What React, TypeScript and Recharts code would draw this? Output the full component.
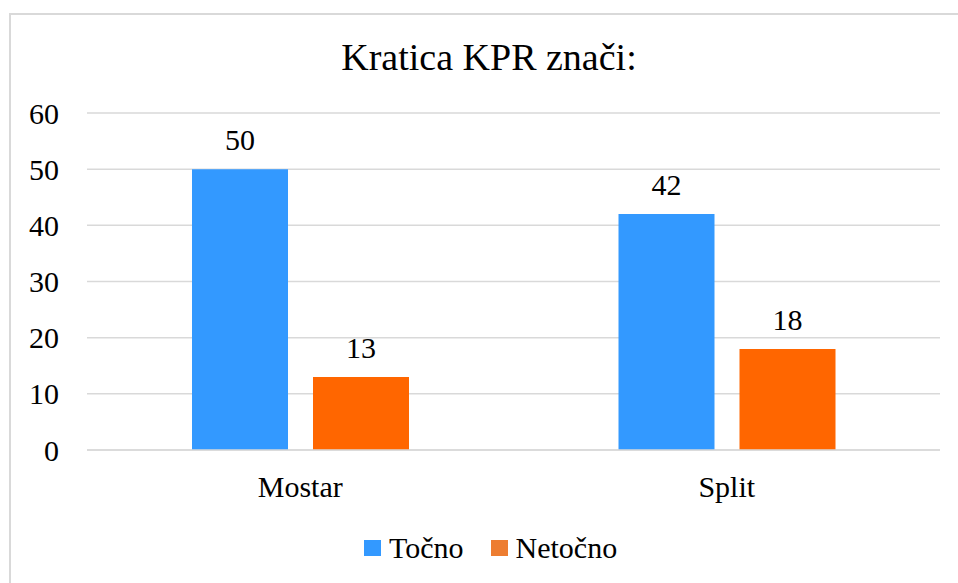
import { BarChart, Bar, XAxis, YAxis, CartesianGrid, Legend, LabelList } from "recharts";

// survey answers per city
const cities = ["Mostar", "Split"];
const tocno = [50, 42];
const netocno = [13, 18];
const yTicks = [0, 10, 20, 30, 40, 50, 60];

const seriesNames = ["Točno", "Netočno"];
const barColors = ["#3399FF", "#FF6600"];
const legendColors = ["#3399FF", "#ED7D31"];

const data = cities.map((city, i) => ({ city, tocno: tocno[i], netocno: netocno[i] }));

const FONT = "Liberation Serif, Tinos, Times New Roman, Times, DejaVu Serif, serif";
const GRID = "#d9d9d9";

function ChartLegend() {
  return (
    <div style={{ display: "flex", alignItems: "center", height: 34, fontFamily: FONT, fontSize: 30, color: "#000" }}>
      {seriesNames.map((name, i) => (
        <span key={name} style={{ display: "flex", alignItems: "center", marginRight: i === 0 ? 27 : 0 }}>
          <span style={{ width: 17, height: 16, background: legendColors[i], marginRight: 8, display: "inline-block" }}></span>
          {name}
        </span>
      ))}
    </div>
  );
}

export default function App() {
  return (
    <div style={{ position: "fixed", left: 0, top: 0, width: 958, height: 583, overflow: "hidden", background: "#fff" }}>
      <div
        style={{
          position: "absolute",
          left: 9,
          top: 13,
          width: 1000,
          height: 700,
          borderLeft: `2px solid ${GRID}`,
          borderTop: `2px solid ${GRID}`,
        }}
      ></div>
      <div
        style={{
          position: "absolute",
          left: 0,
          top: 38,
          width: 978,
          textAlign: "center",
          fontFamily: FONT,
          fontSize: 38,
          lineHeight: "38px",
          color: "#000",
        }}
      >
        Kratica KPR znači:
      </div>
      <div style={{ position: "absolute", left: 0, top: 0 }}>
        <BarChart
          width={958}
          height={583}
          data={data}
          margin={{ top: 113, right: 18, left: 0, bottom: 18 }}
          barSize={96}
          barGap={25}
        >
          <CartesianGrid vertical={false} stroke={GRID} strokeWidth={1.5} />
          <XAxis
            dataKey="city"
            height={81}
            axisLine={{ stroke: GRID, strokeWidth: 1.5 }}
            tickLine={false}
            tickSize={0}
            tickMargin={26}
            tick={{ fill: "#000", fontSize: 30, fontFamily: FONT }}
          />
          <YAxis
            width={87}
            domain={[0, 60]}
            ticks={yTicks}
            axisLine={false}
            tickLine={false}
            tickSize={0}
            tickMargin={28}
            tick={{ fill: "#000", fontSize: 30, fontFamily: FONT }}
          />
          <Legend
            verticalAlign="bottom"
            content={() => <ChartLegend />}
            wrapperStyle={{ left: 364, width: "auto" }}
          />
          <Bar dataKey="tocno" name={seriesNames[0]} fill={barColors[0]} isAnimationActive={false}>
            <LabelList dataKey="tocno" position="top" offset={19} style={{ fill: "#000", fontSize: 30, fontFamily: FONT }} />
          </Bar>
          <Bar dataKey="netocno" name={seriesNames[1]} fill={barColors[1]} isAnimationActive={false}>
            <LabelList dataKey="netocno" position="top" offset={19} style={{ fill: "#000", fontSize: 30, fontFamily: FONT }} />
          </Bar>
        </BarChart>
      </div>
    </div>
  );
}
